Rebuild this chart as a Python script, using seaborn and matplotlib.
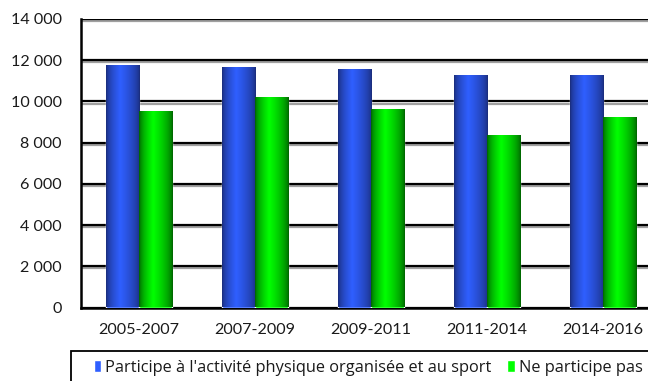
import numpy as np
import pandas as pd
import matplotlib
matplotlib.use("Agg")
import matplotlib.pyplot as plt
import matplotlib.patheffects as pe
from matplotlib.patches import Rectangle
from matplotlib.ticker import FuncFormatter
from matplotlib.colors import to_rgb, to_hex
import seaborn as sns

periods = ["2005-2007", "2007-2009", "2009-2011", "2011-2014", "2014-2016"]
series_names = ["Participe à l'activité physique organisée et au sport", "Ne participe pas"]
participe = [11770, 11675, 11580, 11285, 11285]
ne_participe = [9540, 10220, 9635, 8375, 9250]
ytick_values = [0, 2000, 4000, 6000, 8000, 10000, 12000, 14000]

sns.set_theme(style="white")
plt.rcParams["font.family"] = ["Lato", "DejaVu Sans"]

df = pd.DataFrame({
    "period": periods * 2,
    "series": [series_names[0]] * len(periods) + [series_names[1]] * len(periods),
    "value": participe + ne_participe,
})

fig = plt.figure(figsize=(6.48, 3.81), dpi=100)
ax = fig.add_axes([81 / 648, 1 - 307.5 / 381, 580 / 648, (307.5 - 19) / 381])

palette = {series_names[0]: "#2f5fff", series_names[1]: "#00ff00"}
sns.barplot(data=df, x="period", y="value", hue="series", palette=palette,
            width=0.57, saturation=1, ax=ax, legend=True, zorder=3)

ax.set_ylim(0, 14000)
ax.set_xlim(-0.5, len(periods) - 0.5)
ax.set_yticks(ytick_values)
ax.yaxis.set_major_formatter(FuncFormatter(lambda v, p: f"{int(v):,}".replace(",", " ")))
ax.set_xlabel("")
ax.set_ylabel("")
ax.tick_params(axis="both", length=0, labelsize=11.6, colors="#1a1a1a")
ax.tick_params(axis="y", pad=14)
ax.tick_params(axis="x", pad=11)

ax.set_axisbelow(True)
ax.yaxis.grid(True, color="black", linewidth=1.6)
for gl in ax.get_ygridlines():
    gl.set_path_effects([pe.SimpleLineShadow(offset=(0, -1.5), shadow_color="#888888", alpha=0.8),
                         pe.Normal()])
for side in ["top", "right"]:
    ax.spines[side].set_visible(False)
for side in ["left", "bottom"]:
    ax.spines[side].set_color("black")
    ax.spines[side].set_linewidth(1.8)

# cylinder-like gradient on bars
def grad_colors(base, dark):
    b = np.array(to_rgb(base))
    d = np.array(to_rgb(dark))
    t = np.linspace(0, 1, 64)
    peak = 0.42
    f = np.clip(1 - np.abs(t - peak) / np.where(t < peak, peak, 1 - peak), 0, 1) ** 0.6
    return (d[None, :] * (1 - f[:, None]) + b[None, :] * f[:, None])[None, :, :]

darks = {"#2f5fff": "#1a2c78", "#00ff00": "#006000"}
for bar in list(ax.patches):
    h = bar.get_height()
    if h <= 0:
        continue
    fc = to_hex(bar.get_facecolor())
    dark = darks.get(fc, "#000000")
    img = grad_colors(fc, dark)
    x, w = bar.get_x(), bar.get_width()
    im = ax.imshow(img, extent=[x, x + w, 0, h], aspect="auto", zorder=4,
                   interpolation="bilinear")
    im.set_clip_path(bar)
ax.set_aspect("auto")
ax.set_ylim(0, 14000)
ax.set_xlim(-0.5, len(periods) - 0.5)

handles, labels = ax.get_legend_handles_labels()
ax.get_legend().remove()
leg = fig.legend(handles, labels, loc="upper left", bbox_to_anchor=(94 / 648, 1 - 360 / 381),
                 ncol=2, frameon=False, prop={"family": ["Open Sans", "DejaVu Sans"], "size": 11.8},
                 handlelength=0.45, handleheight=0.75, handletextpad=0.25, columnspacing=0.95,
                 borderpad=0, borderaxespad=0)
for t in leg.get_texts():
    t.set_color("#1a1a1a")

# legend frame (extends beyond the canvas, as in the reference)
fig.patches.append(Rectangle((71 / 648, -0.1), 1.0, 0.1 + (381 - 351) / 381,
                             transform=fig.transFigure, fill=False, edgecolor="black",
                             linewidth=1.3, zorder=5))

fig.savefig("out.png", dpi=100)
